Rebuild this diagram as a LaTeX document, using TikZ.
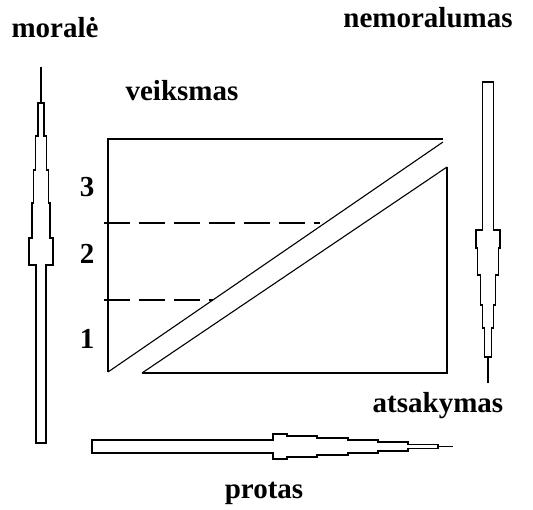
\documentclass[tikz,border=0pt]{standalone}
\usepackage{fontspec}
\setmainfont{Liberation Serif}
\begin{document}
\begin{tikzpicture}[
    x=1pt, y=-1pt,
    lbl/.style={font=\fontsize{29}{32}\selectfont\bfseries, anchor=base, inner sep=0pt},
    frame/.style={draw, line width=1.6pt},
    cut/.style={draw, line width=1.1pt},
    guide/.style={draw, line width=1.3pt, dash pattern=on 26pt off 9pt},
    stem/.style={draw, line width=1.3pt},
    tipline/.style={draw, line width=2.2pt},
]
\useasboundingbox (0,0) rectangle (533,509);

% Labels
\node[lbl] (moral) at (55,37) {moralė};
\node[lbl] (nemoral) at (428,27) {nemoralumas};
\node[lbl] (veiks) at (182,100) {veiksmas};
\node[lbl] (n3) at (87,196) {3};
\node[lbl] (n2) at (87,263) {2};
\node[lbl] (n1) at (87,348) {1};
\node[lbl] (atsak) at (438,412) {atsakymas};
\node[lbl] (protas) at (264,498) {protas};

% Frame split by the diagonal strip
\draw[frame] (108,372) -- (108,139) -- (443,139);
\draw[cut] (108,372) -- (443,142);
\draw[frame] (142,373) -- (447,373) -- (447,167);
\draw[cut] (142,373) -- (447,167);

% Levels
\draw[guide] (104,223) -- (320,223);
\draw[guide] (104,300) -- (213,300);

% Left arrow (up)
\draw[stem] (36,443) -- (36,265) -- (29,265) -- (29,238) -- (32,238) -- (32,203)
    -- (33.5,203) -- (33.5,170) -- (35.5,170) -- (35.5,136) -- (38,136) -- (38,103)
    -- (44,103) -- (44,136) -- (46.5,136) -- (46.5,170) -- (48.5,170) -- (48.5,203)
    -- (50,203) -- (50,238) -- (53,238) -- (53,265) -- (46,265) -- (46,443) -- cycle;
\draw[tipline] (41,103) -- (41,67);

% Right arrow (down)
\draw[stem] (482.5,82) -- (493.5,82) -- (493.5,230) -- (500,230) -- (500,248)
    -- (498.5,248) -- (498.5,275) -- (495.5,275) -- (495.5,305) -- (493.5,305)
    -- (493.5,328) -- (491.5,328) -- (491.5,357) -- (484.5,357) -- (484.5,328)
    -- (482.5,328) -- (482.5,305) -- (480.5,305) -- (480.5,275) -- (477.5,275)
    -- (477.5,248) -- (476,248) -- (476,230) -- (482.5,230) -- cycle;
\draw[tipline] (488,357) -- (488,383);

% Bottom arrow (right)
\draw[stem] (92,440) -- (273,440) -- (273,434) -- (287,434) -- (287,436) -- (317,436)
    -- (317,438) -- (348,438) -- (348,440) -- (378,440) -- (378,442) -- (408,442)
    -- (408,444.5) -- (438,444.5) -- (438,448.5) -- (408,448.5) -- (408,451)
    -- (378,451) -- (378,453) -- (348,453) -- (348,455) -- (317,455) -- (317,457)
    -- (287,457) -- (287,459) -- (273,459) -- (273,453) -- (92,453) -- cycle;
\draw[stem] (438,446.5) -- (453,446.5);

\end{tikzpicture}
\end{document}
